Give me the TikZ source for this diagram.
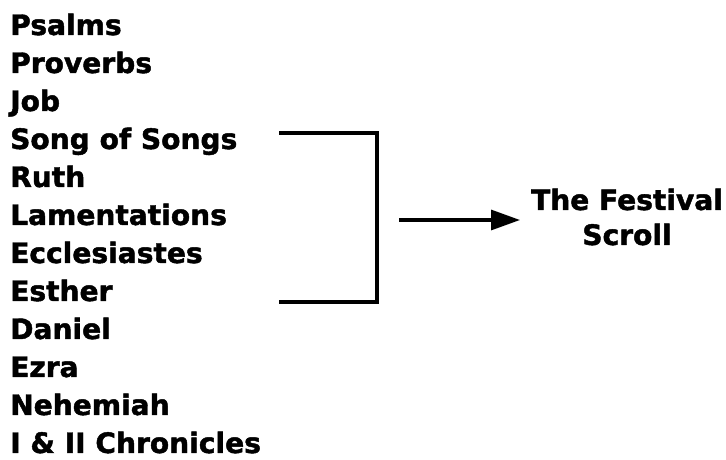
\documentclass[tikz,border=0pt]{standalone}
\usepackage{fontspec}
\setmainfont{DejaVu Sans}[BoldFeatures={FakeBold=1.6}]
\usetikzlibrary{arrows.meta}
\begin{document}
\begin{tikzpicture}[x=1pt,y=1pt,
  book/.style={anchor=base west,inner sep=0pt,font=\fontsize{28.1}{38}\selectfont\bfseries},
  title/.style={align=center,inner sep=0pt,font=\fontsize{28.1}{35}\selectfont\bfseries},
  bracketline/.style={line width=3.2pt,line join=miter},
  arrowline/.style={line width=3.2pt,-{Triangle[length=29pt,width=20pt]}}]
\useasboundingbox (0,0) rectangle (726,460);
\node[book] (b1) at (10,425) {Psalms};
\node[book] (b2) at (10,387) {Proverbs};
\node[book] (b3) at (10,349) {Job};
\node[book] (b4) at (10,311) {Song of Songs};
\node[book] (b5) at (10,273) {Ruth};
\node[book] (b6) at (10,235) {Lamentations};
\node[book] (b7) at (10,197) {Ecclesiastes};
\node[book] (b8) at (10,159) {Esther};
\node[book] (b9) at (10,121) {Daniel};
\node[book] (b10) at (10,83) {Ezra};
\node[book] (b11) at (10,45) {Nehemiah};
\node[book] (b12) at (10,7) {I \& II Chronicles};
\coordinate (bt) at (279,327);
\coordinate (bb) at (279,158);
\coordinate (bx) at (377,0);
\coordinate (as) at (399,240);
\coordinate (ae) at (520,240);
\node[title] (scroll) at (627,243) {The Festival\\Scroll};
\draw[bracketline] (bt) -- (bt -| bx) -- (bb -| bx) -- (bb);
\draw[arrowline] (as) -- (ae);
\end{tikzpicture}
\end{document}
